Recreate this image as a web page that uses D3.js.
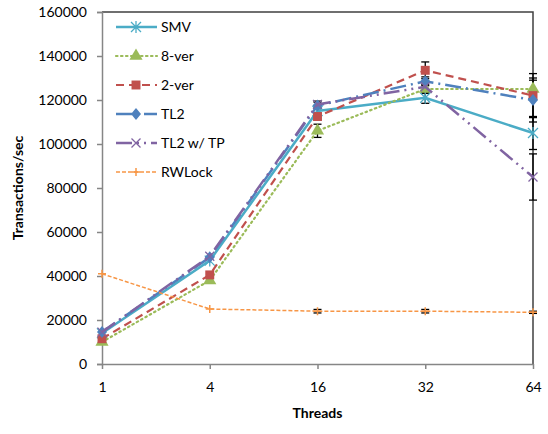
<!DOCTYPE html>
<html lang="en">
<head>
<meta charset="utf-8">
<title>Threads chart</title>
<script src="https://d3js.org/d3.v7.min.js"></script>
<style>
body { margin: 0; background: #fff; }
text { font-family: Lato, "Liberation Sans", sans-serif; fill: #000; }
</style>
</head>
<body>
<script>
// data
var threads = ["1", "4", "16", "32", "64"];
var yTicks = [0, 20000, 40000, 60000, 80000, 100000, 120000, 140000, 160000];

var smv     = [14000, 47000, 115000, 121000, 105000];
var ver8    = [10000, 38000, 106000, 125000, 125000];
var ver2    = [11500, 40500, 112500, 133500, 122000];
var tl2     = [14500, 48500, 117500, 128500, 120000];
var tl2tp   = [14500, 49000, 118000, 126000, 85000];
var rwlock  = [41000, 25000, 24000, 24000, 23500];

// error amounts (symmetric)
var smvErr    = [0, 0, 1500, 2500, 7500];
var ver8Err   = [0, 0, 3000, 2000, 4000];
var ver2Err   = [0, 0, 1500, 3800, 10000];
var tl2Err    = [0, 0, 1500, 2000, 10000];
var tl2tpErr  = [0, 0, 1500, 2000, 10500];
var rwlockErr = [0, 0, 800, 800, 500];

var series = [
  {name: "SMV", values: smv, err: smvErr, color: "#4BACC6", dash: null, width: 2.5, marker: "star"},
  {name: "8-ver", values: ver8, err: ver8Err, color: "#9BBB59", dash: "1.5,3.5", width: 2.2, marker: "triangle"},
  {name: "2-ver", values: ver2, err: ver2Err, color: "#C0504D", dash: "8,5", width: 2.2, marker: "square"},
  {name: "TL2", values: tl2, err: tl2Err, color: "#4F81BD", dash: "16,5,2,5", width: 2.5, marker: "diamond"},
  {name: "TL2 w/ TP", values: tl2tp, err: tl2tpErr, color: "#8064A2", dash: "16,5,2,5,2,5", width: 2.5, marker: "cross"},
  {name: "RWLock", values: rwlock, err: rwlockErr, color: "#F79646", dash: "4,2", width: 1.5, marker: "plus"}
];

var W = 548, H = 434;
var m = {left: 102, right: 15, top: 12, bottom: 70};
var fs = "14px";

var svg = d3.select("body").append("svg")
  .attr("width", W)
  .attr("height", H);

var x = d3.scalePoint().domain(threads).range([m.left, W - m.right]);
var y = d3.scaleLinear().domain([0, 160000]).range([H - m.bottom, m.top]);

// frame: top and right border
svg.append("path")
  .attr("d", "M" + m.left + "," + m.top + "H" + (W - m.right) + "V" + (H - m.bottom))
  .attr("fill", "none")
  .attr("stroke", "#404040")
  .attr("stroke-width", 1.5);

// y axis
var yAxis = svg.append("g")
  .attr("transform", "translate(" + m.left + ",0)")
  .call(d3.axisLeft(y).tickValues(yTicks).tickSize(5).tickPadding(10).tickFormat(d3.format("d")));
yAxis.selectAll("line, path").attr("stroke", "#868686").attr("stroke-width", 1.5);
yAxis.selectAll("text").style("font-size", fs);

// x axis
var xAxis = svg.append("g")
  .attr("transform", "translate(0," + (H - m.bottom) + ")")
  .call(d3.axisBottom(x).tickSize(5).tickPadding(13).tickSizeOuter(0));
xAxis.selectAll("line, path").attr("stroke", "#868686").attr("stroke-width", 1.5);
xAxis.selectAll("text").style("font-size", fs);

// axis titles
svg.append("text")
  .attr("x", (m.left + W - m.right) / 2)
  .attr("y", 418)
  .attr("text-anchor", "middle")
  .style("font-size", fs)
  .style("font-weight", "bold")
  .text("Threads");

svg.append("text")
  .attr("transform", "translate(23," + ((m.top + H - m.bottom) / 2) + ") rotate(-90)")
  .attr("text-anchor", "middle")
  .style("font-size", fs)
  .style("font-weight", "bold")
  .text("Transactions/sec");

function markerPath(type) {
  if (type === "star") return "M-5,-5L5,5M-5,5L5,-5M0,-6L0,6";
  if (type === "cross") return "M-4.5,-4.5L4.5,4.5M-4.5,4.5L4.5,-4.5";
  if (type === "plus") return "M-4,0L4,0M0,-4L0,4";
  if (type === "square") return d3.symbol(d3.symbolSquare, 80)();
  if (type === "triangle") return d3.symbol(d3.symbolTriangle, 75)();
  if (type === "diamond") return "M0,-6L5,0L0,6L-5,0Z";
}

function drawMarker(g, s) {
  var p = g.append("path").attr("d", markerPath(s.marker));
  if (s.marker === "star" || s.marker === "cross" || s.marker === "plus") {
    p.attr("fill", "none").attr("stroke", s.color).attr("stroke-width", s.marker === "plus" ? 1.5 : 1.3);
  } else {
    p.attr("fill", s.color).attr("stroke", "none");
  }
  return p;
}

var line = d3.line()
  .x(function(d, i) { return x(threads[i]); })
  .y(function(d) { return y(d); });

// error bars
series.forEach(function(s) {
  var g = svg.append("g");
  s.values.forEach(function(v, i) {
    var e = s.err[i];
    if (!e) return;
    var cx = x(threads[i]);
    g.append("line").attr("x1", cx).attr("x2", cx)
      .attr("y1", y(v - e)).attr("y2", y(v + e))
      .attr("stroke", "#000").attr("stroke-width", 1.3);
    [v - e, v + e].forEach(function(t) {
      g.append("line").attr("x1", cx - 4).attr("x2", cx + 4)
        .attr("y1", y(t)).attr("y2", y(t))
        .attr("stroke", "#000").attr("stroke-width", 1.3);
    });
  });
});

// series
series.forEach(function(s) {
  svg.append("path")
    .datum(s.values)
    .attr("d", line)
    .attr("fill", "none")
    .attr("stroke", s.color)
    .attr("stroke-width", s.width)
    .attr("stroke-dasharray", s.dash)
    .attr("stroke-linecap", s.marker === "triangle" ? "round" : "butt");

  var mg = svg.append("g");
  s.values.forEach(function(v, i) {
    var g = mg.append("g").attr("transform", "translate(" + x(threads[i]) + "," + y(v) + ")");
    drawMarker(g, s);
  });
});

// legend
var legend = svg.append("g");
series.forEach(function(s, i) {
  var ly = 27 + i * 29;
  var g = legend.append("g").attr("transform", "translate(0," + ly + ")");
  g.append("line").attr("x1", 116).attr("x2", 157).attr("y1", 0).attr("y2", 0)
    .attr("stroke", s.color)
    .attr("stroke-width", s.width)
    .attr("stroke-dasharray", s.dash)
    .attr("stroke-linecap", s.marker === "triangle" ? "round" : "butt");
  var mk = g.append("g").attr("transform", "translate(136,0)");
  drawMarker(mk, s);
  g.append("text").attr("x", 161).attr("y", 5).style("font-size", fs).text(s.name);
});
</script>
</body>
</html>
